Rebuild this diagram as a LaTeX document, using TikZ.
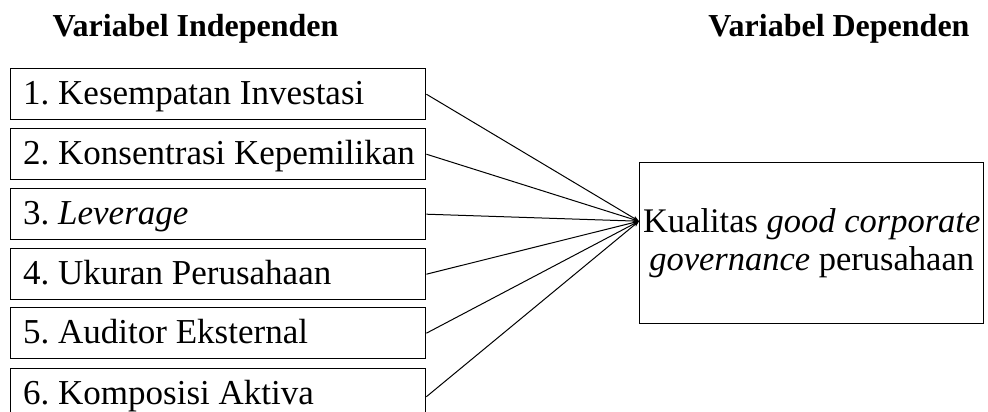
\documentclass[tikz,border=0pt]{standalone}
\usepackage{fontspec}
\setmainfont{Liberation Serif}
\usetikzlibrary{arrows.meta,calc}
\frenchspacing
\begin{document}
\begin{tikzpicture}[x=1pt,y=-1pt,
  lbox/.style={draw, line width=1.4pt, minimum width=415pt, minimum height=51pt, inner sep=0pt, anchor=north west},
  ltext/.style={anchor=base west, inner sep=0pt, font=\fontsize{35}{40}\selectfont},
  vtitle/.style={anchor=base, inner sep=0pt, font=\fontsize{32}{36}\selectfont\bfseries},
  rbox/.style={draw, line width=1.4pt, minimum width=344pt, minimum height=161pt, anchor=north west, align=center, inner sep=1pt, font=\fontsize{34.5}{38.5}\selectfont},
  conn/.style={line width=1pt, -{Stealth[length=6pt,width=4.5pt]}}]
\useasboundingbox (0,0) rectangle (988,412);
\node[vtitle] (ti) at (195.5,37) {Variabel Independen};
\node[vtitle] (td) at (839,37) {Variabel Dependen};
\node[lbox] (b1) at (10,68) {};
\node[lbox] (b2) at (10,128) {};
\node[lbox] (b3) at (10,188) {};
\node[lbox] (b4) at (10,248) {};
\node[lbox] (b5) at (10,307) {};
\node[lbox, minimum height=56pt] (b6) at (10,368) {};
\node[ltext] (l1) at ($(b1.west)+(13,10)$) {1. Kesempatan Investasi};
\node[ltext] (l2) at ($(b2.west)+(13,10)$) {2. Konsentrasi Kepemilikan};
\node[ltext] (l3) at ($(b3.west)+(13,10)$) {3. \textit{Leverage}};
\node[ltext] (l4) at ($(b4.west)+(13,10)$) {4. Ukuran Perusahaan};
\node[ltext] (l5) at ($(b5.west)+(13,10)$) {5. Auditor Eksternal};
\node[ltext] (l6) at ($(b6.west)+(13,8)$) {6. Komposisi Aktiva};
\node[rbox] (r) at (639,162) {Kualitas \textit{good corporate}\\\textit{governance} perusahaan};
\coordinate (tgt) at ($(r.west)+(0,-22)$);
\foreach \i in {1,...,6} {\draw[conn] (b\i.east) -- (tgt);}
\end{tikzpicture}
\end{document}
